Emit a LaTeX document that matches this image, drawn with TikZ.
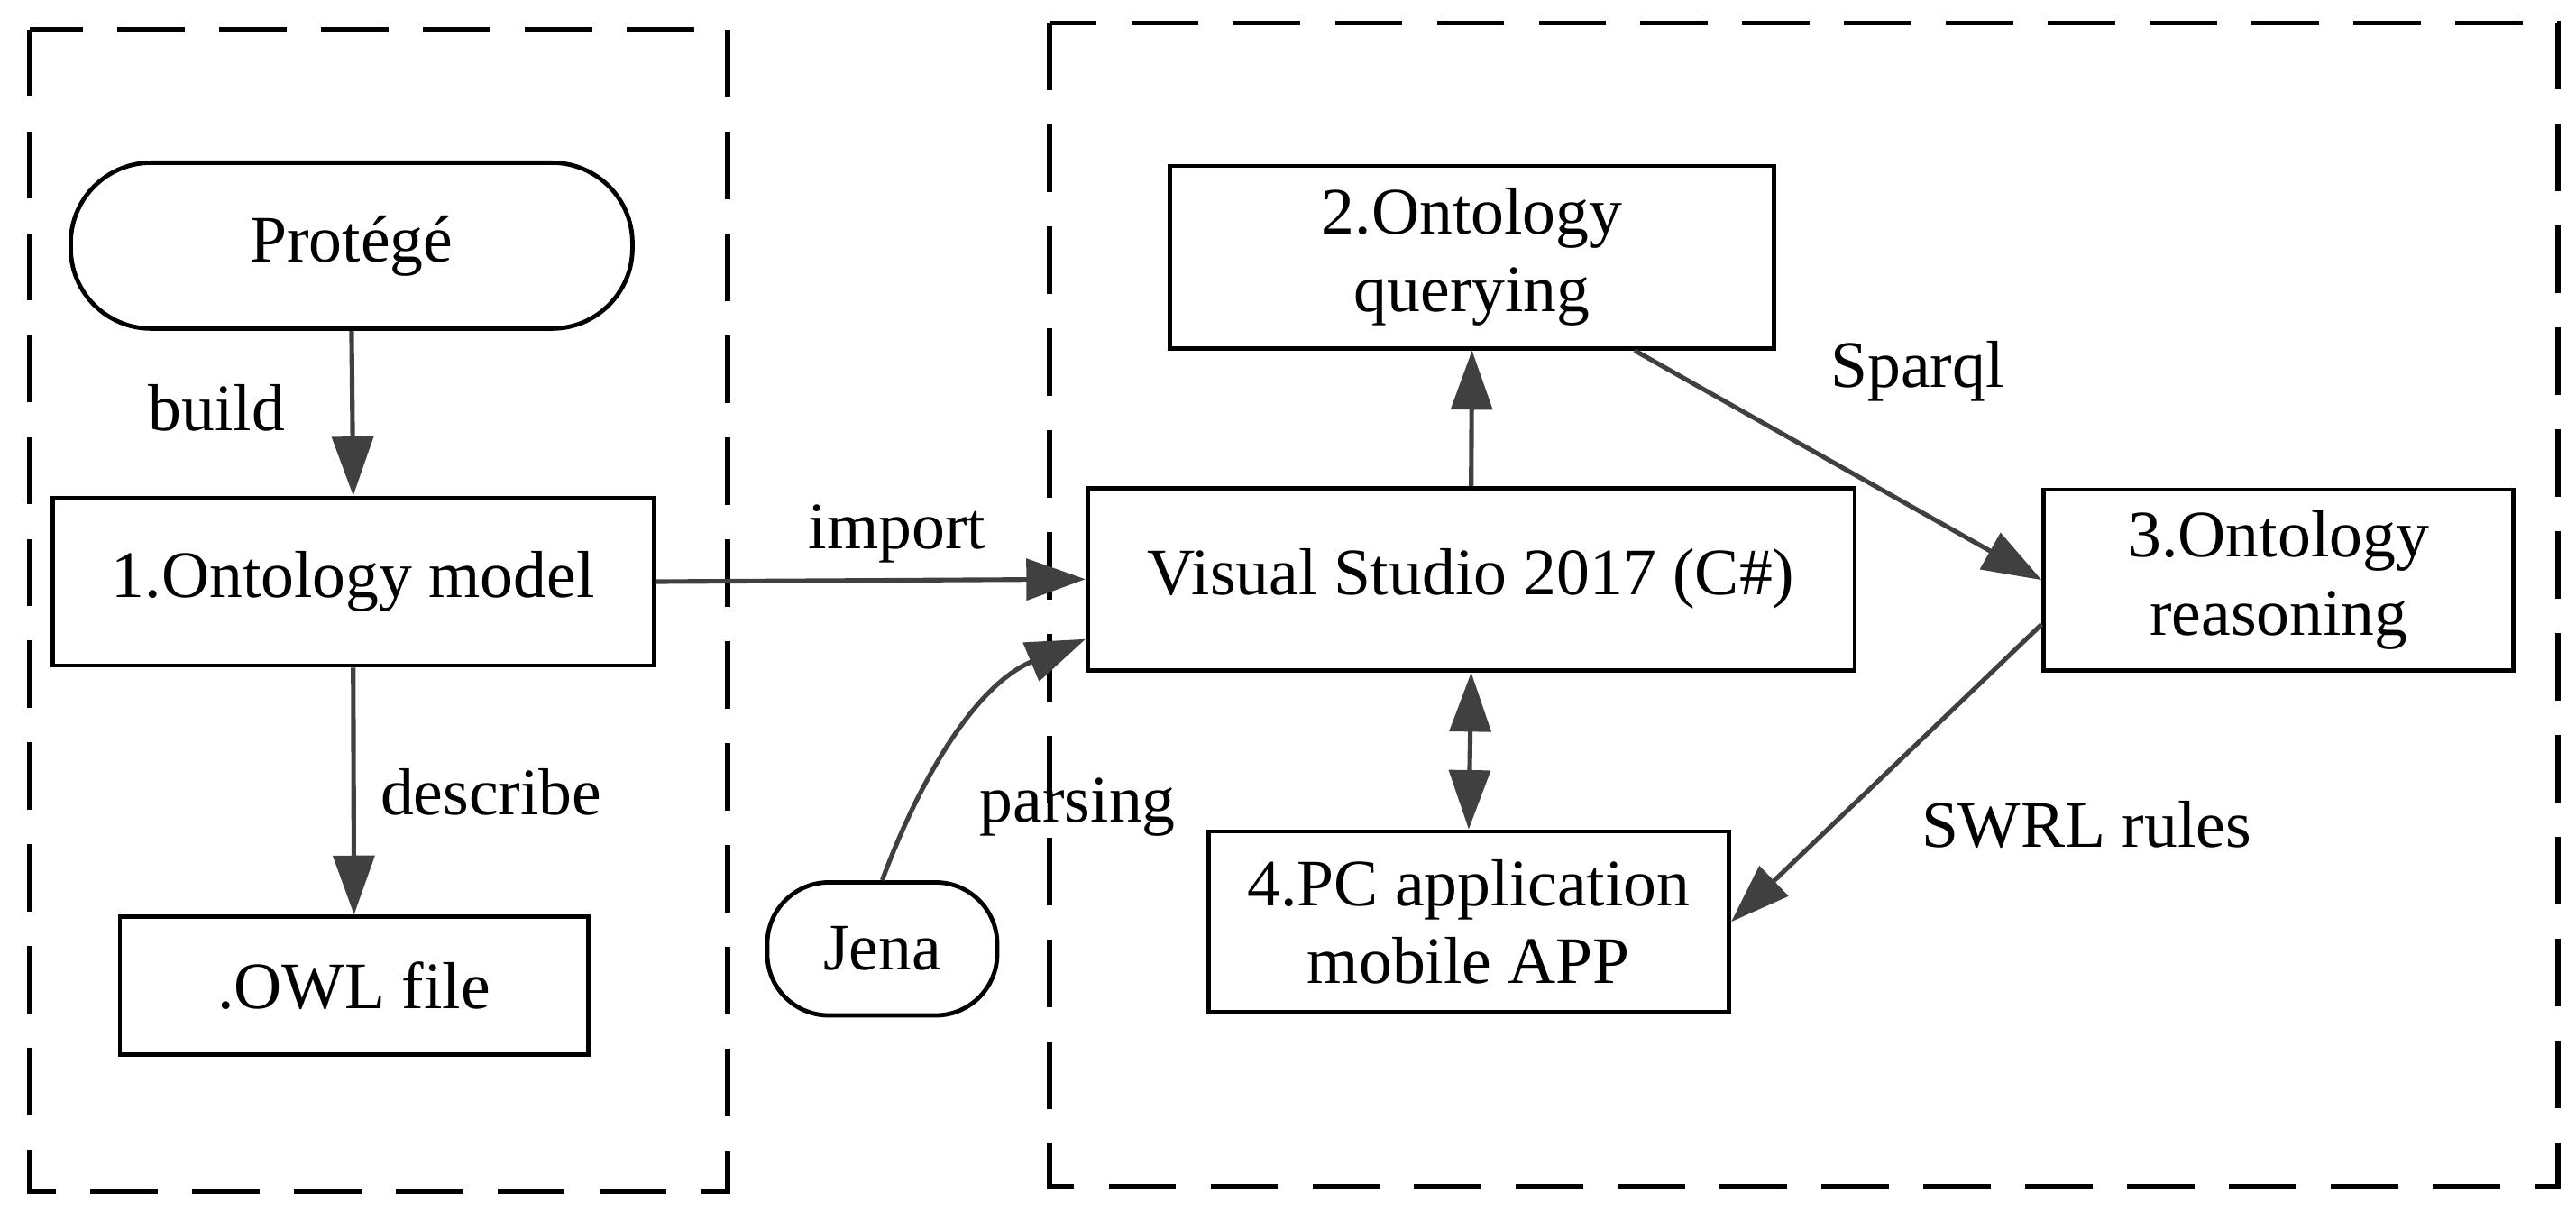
\documentclass[tikz,border=0pt]{standalone}
\usepackage{fontspec}
\setmainfont{Liberation Serif}
\usetikzlibrary{arrows.meta,calc}
\begin{document}
\begin{tikzpicture}[x=0.02cm,y=-0.02cm,
  every node/.style={font=\fontsize{23}{27}\selectfont, align=center, inner sep=0pt},
  boxn/.style={draw=black, line width=1.5pt, rectangle},
  roundn/.style={draw=black, line width=1.5pt, rectangle},
  lbl/.style={font=\fontsize{23}{27}\selectfont},
  frame/.style={draw=black, line width=1.8pt, dash pattern=on 0.82cm off 0.42cm},
  tipx/.tip={Triangle[length=0.72cm,width=0.5cm]},
  conn/.style={draw=black!75, line width=1.6pt, -tipx},
  conn2/.style={draw=black!75, line width=1.6pt, tipx-tipx}
]
\useasboundingbox (0,0) rectangle (1568,743);
\fill[white] (0,0) rectangle (1568,743);

% frames
\draw[frame] (18,18) rectangle (443,725);
\draw[frame] (639,14) rectangle (1557,722);

% nodes
\node[roundn, rounded corners=0.98cm, minimum width=6.84cm, minimum height=2.02cm] (prot) at (214,149.5) {Protégé};
\node[boxn, minimum width=7.32cm, minimum height=2.04cm] (m1) at (215,354) {1.Ontology model};
\node[boxn, minimum width=5.70cm, minimum height=1.68cm] (owl) at (215.5,600) {.OWL file};
\node[boxn, minimum width=9.34cm, minimum height=2.22cm] (vs) at (895.5,352.5) {Visual Studio 2017 (C\#)};
\node[boxn, minimum width=7.36cm, minimum height=2.22cm] (q2) at (896,156.5) {2.Ontology\\querying};
\node[boxn, minimum width=5.72cm, minimum height=2.20cm] (r3) at (1387,353) {3.Ontology\\reasoning};
\node[boxn, minimum width=6.34cm, minimum height=2.20cm] (a4) at (894,561) {4.PC application\\mobile APP};
\node[roundn, rounded corners=0.75cm, minimum width=2.80cm, minimum height=1.62cm] (jena) at (537,577.5) {Jena};

% labels
\node[lbl] (lbuild) at (132,248) {build};
\node[lbl] (ldesc) at (299,482) {describe};
\node[lbl] (limport) at (546,325) {import};
\node[lbl] (lsparql) at (1167,226) {Sparql};
\node[lbl] (lswrl) at (1270,502) {SWRL rules};
\node[lbl] (lparse) at (656,491) {parsing};

% connectors
\draw[conn] (prot.south) -- (m1.north);
\draw[conn] (m1.south) -- (owl.north);
\draw[conn] (m1.east) -- (vs.west);
\draw[conn] (vs.north) -- (q2.south);
\draw[conn2] (vs.south) -- (a4.north);
\draw[conn] ([xshift=1.98cm]q2.south) -- (r3.west);
\draw[conn] ([yshift=-0.54cm]r3.west) -- (a4.east);
\draw[conn] (jena.north) .. controls +(23,-62) and +(-67,28) .. ([yshift=-0.73cm]vs.west);
\end{tikzpicture}
\end{document}
